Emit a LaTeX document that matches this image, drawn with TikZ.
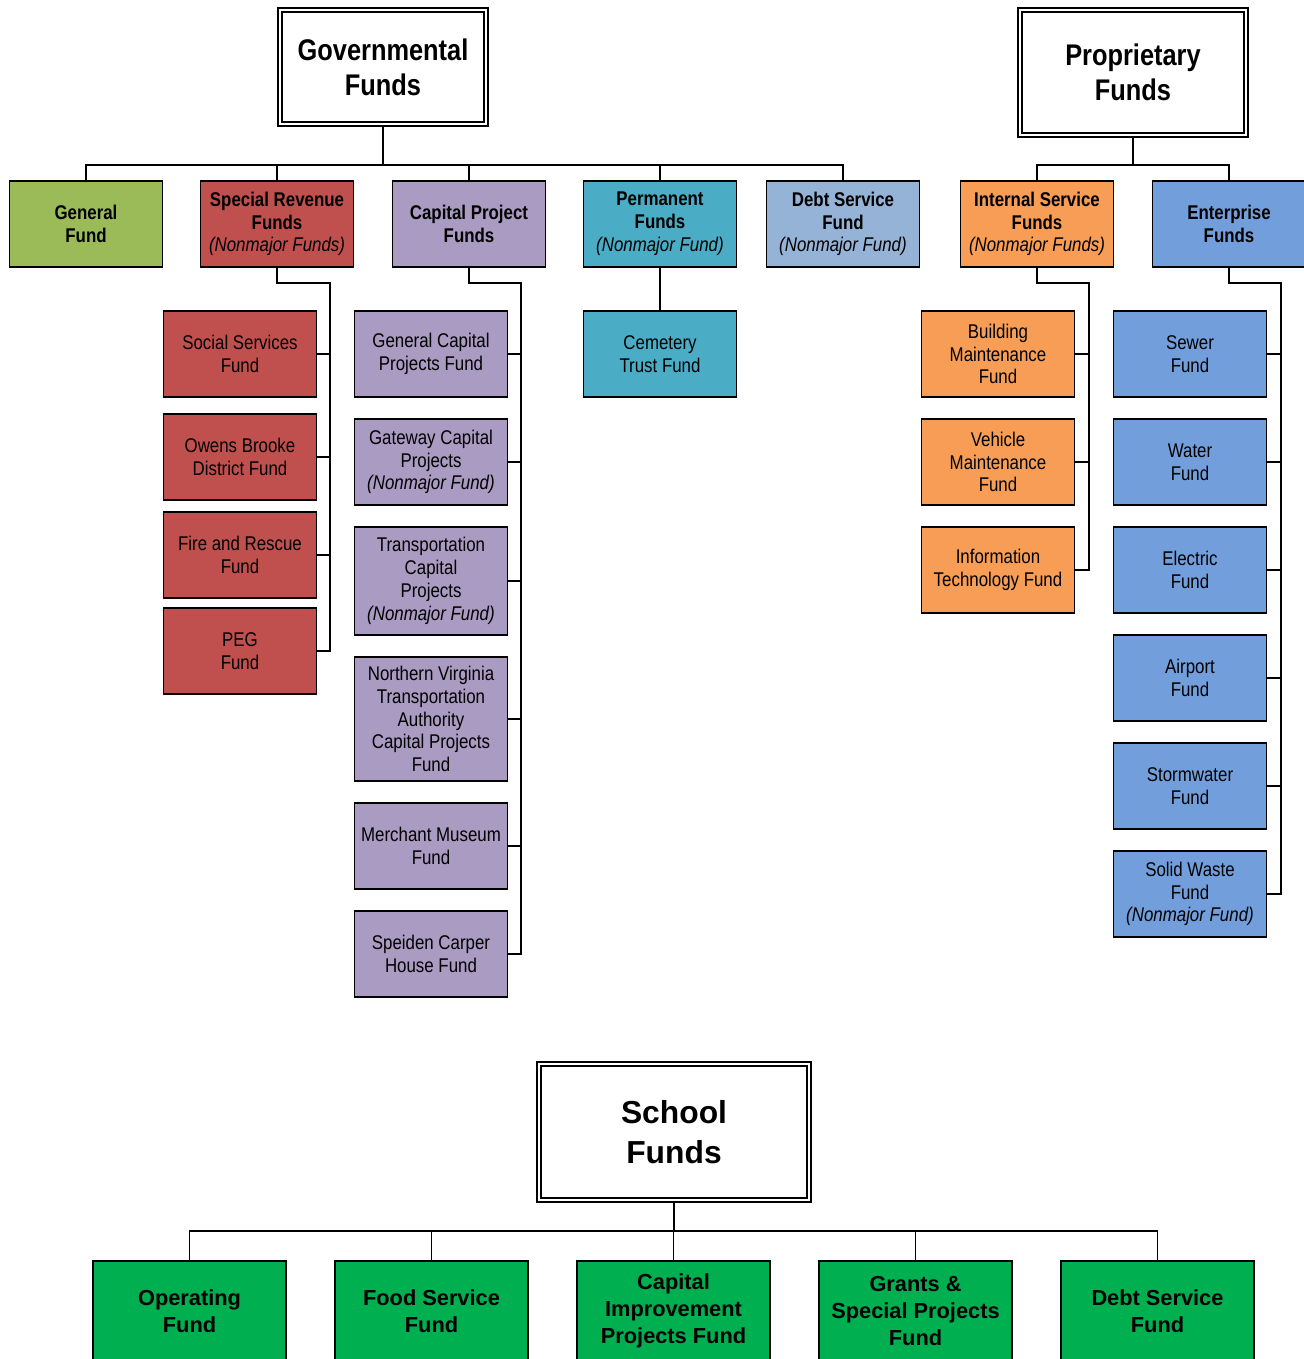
\documentclass[tikz,border=0pt]{standalone}
\usepackage{fontspec}
\setmainfont{Liberation Sans}
\newfontfamily\narrowsans[FakeStretch=0.85]{Liberation Sans}
\usepackage{tikz}
\usetikzlibrary{calc}
\definecolor{genGreen}{HTML}{9BBB59}
\definecolor{srRed}{HTML}{C0504D}
\definecolor{cpPurple}{HTML}{A99BC1}
\definecolor{permTeal}{HTML}{4BACC6}
\definecolor{debtBlue}{HTML}{95B3D7}
\definecolor{isOrange}{HTML}{F79D55}
\definecolor{entBlue}{HTML}{729FDB}
\definecolor{schoolGreen}{HTML}{00B050}
\newcommand{\nmj}[1]{{\mdseries\itshape(#1)}}
\tikzset{
	fundbox/.style={draw=black, line width=0.9pt, inner sep=0pt, align=center,
		minimum width=3.06cm, minimum height=1.72cm,
		font=\narrowsans\fontsize{11.3}{13}\selectfont},
	topbox/.style={fundbox, font=\narrowsans\bfseries\fontsize{11.3}{13}\selectfont},
	headbox/.style={draw=black, double, double distance=1.4pt, line width=0.8pt,
		inner sep=0pt, align=center, fill=white,
		font=\narrowsans\bfseries\fontsize{17}{19.8}\selectfont},
	schoolbox/.style={draw=black, line width=0.9pt, fill=schoolGreen, inner sep=0pt,
		align=center, minimum width=3.86cm, minimum height=2cm,
		font=\bfseries\fontsize{12.4}{15.3}\selectfont},
	link/.style={draw=black, line width=0.9pt},
}

\begin{document}
\begin{tikzpicture}[x=0.02cm, y=-0.02cm]
	\useasboundingbox (0,0) rectangle (1303,1359);

	% headings
	\node[headbox, minimum width=4.12cm, minimum height=2.28cm] (gov) at (383,67) {Governmental\\Funds};
	\node[headbox, minimum width=4.52cm, minimum height=2.5cm] (prop) at (1133,72.5) {Proprietary\\Funds};
	\node[headbox, minimum width=5.4cm, minimum height=2.72cm, font=\bfseries\fontsize{18.1}{22.7}\selectfont] (school) at (674,1132) {School\\Funds};

	% fund types
	\node[topbox, fill=genGreen] (gen) at (86,224) {General\\Fund};
	\node[topbox, fill=srRed] (srf) at (277,224) {Special Revenue\\Funds\\\nmj{Nonmajor Funds}};
	\node[topbox, fill=cpPurple] (cpf) at (469,224) {Capital Project\\Funds};
	\node[topbox, fill=permTeal] (perm) at (660,224) {Permanent\\Funds\\\nmj{Nonmajor Fund}};
	\node[topbox, fill=debtBlue] (debt) at (843,224) {Debt Service\\Fund\\\nmj{Nonmajor Fund}};
	\node[topbox, fill=isOrange] (isf) at (1037,224) {Internal Service\\Funds\\\nmj{Nonmajor Funds}};
	\node[topbox, fill=entBlue] (ent) at (1229,224) {Enterprise\\Funds};

	% special revenue
	\node[fundbox, fill=srRed] (sr1) at (240,354) {Social Services\\Fund};
	\node[fundbox, fill=srRed] (sr2) at (240,457) {Owens Brooke\\District Fund};
	\node[fundbox, fill=srRed] (sr3) at (240,555) {Fire and Rescue\\Fund};
	\node[fundbox, fill=srRed] (sr4) at (240,651) {PEG\\Fund};

	% capital projects
	\node[fundbox, fill=cpPurple] (cp1) at (431,354) {General Capital\\Projects Fund};
	\node[fundbox, fill=cpPurple] (cp2) at (431,462) {Gateway Capital\\Projects\\\nmj{Nonmajor Fund}};
	\node[fundbox, fill=cpPurple, minimum height=2.16cm] (cp3) at (431,581) {Transportation\\Capital\\Projects\\\nmj{Nonmajor Fund}};
	\node[fundbox, fill=cpPurple, minimum height=2.48cm] (cp4) at (431,719) {Northern Virginia\\Transportation\\Authority\\Capital Projects\\Fund};
	\node[fundbox, fill=cpPurple] (cp5) at (431,846) {Merchant Museum\\Fund};
	\node[fundbox, fill=cpPurple] (cp6) at (431,954) {Speiden Carper\\House Fund};

	% permanent
	\node[fundbox, fill=permTeal] (pm1) at (660,354) {Cemetery\\Trust Fund};

	% internal service
	\node[fundbox, fill=isOrange] (is1) at (998,354) {Building\\Maintenance\\Fund};
	\node[fundbox, fill=isOrange] (is2) at (998,462) {Vehicle\\Maintenance\\Fund};
	\node[fundbox, fill=isOrange] (is3) at (998,570) {Information\\Technology Fund};

	% enterprise
	\node[fundbox, fill=entBlue] (en1) at (1190,354) {Sewer\\Fund};
	\node[fundbox, fill=entBlue] (en2) at (1190,462) {Water\\Fund};
	\node[fundbox, fill=entBlue] (en3) at (1190,570) {Electric\\Fund};
	\node[fundbox, fill=entBlue] (en4) at (1190,678) {Airport\\Fund};
	\node[fundbox, fill=entBlue] (en5) at (1190,786) {Stormwater\\Fund};
	\node[fundbox, fill=entBlue] (en6) at (1190,894) {Solid Waste\\Fund\\\nmj{Nonmajor Fund}};

	% school
	\node[schoolbox] (sc1) at (189.5,1311) {Operating\\Fund};
	\node[schoolbox] (sc2) at (431.5,1311) {Food Service\\Fund};
	\node[schoolbox] (sc3) at (673.5,1311) {Capital\\Improvement\\Projects Fund};
	\node[schoolbox] (sc4) at (915.5,1311) {Grants \&\\Special Projects\\Fund};
	\node[schoolbox] (sc5) at (1157.5,1311) {Debt Service\\Fund};

	% buses
	\coordinate (govbus) at (383,165);
	\coordinate (propbus) at (1133,165);
	\coordinate (schbus) at (674,1231);
	\coordinate (srspine) at (330,283);
	\coordinate (cpspine) at (521,283);
	\coordinate (isspine) at (1089,283);
	\coordinate (enspine) at (1281,283);

	\draw[link] (gov.south) -- (govbus);
	\foreach \n in {gen,srf,cpf,perm,debt}
		\draw[link] (govbus) -| (\n.north);
	\draw[link] (prop.south) -- (propbus);
	\foreach \n in {isf,ent}
		\draw[link] (propbus) -| (\n.north);
	\draw[link] (school.south) -- (schbus);
	\foreach \n in {sc1,sc2,sc3,sc4,sc5}
		\draw[link] (schbus) -| (\n.north);

	\draw[link] (perm.south) -- (pm1.north);

	\draw[link] (srf.south) |- (srspine) -- (srspine |- sr4.east) -- (sr4.east);
	\foreach \n in {sr1,sr2,sr3}
		\draw[link] (\n.east) -- (srspine |- \n.east);
	\draw[link] (cpf.south) |- (cpspine) -- (cpspine |- cp6.east) -- (cp6.east);
	\foreach \n in {cp1,cp2,cp3,cp4,cp5}
		\draw[link] (\n.east) -- (cpspine |- \n.east);
	\draw[link] (isf.south) |- (isspine) -- (isspine |- is3.east) -- (is3.east);
	\foreach \n in {is1,is2}
		\draw[link] (\n.east) -- (isspine |- \n.east);
	\draw[link] (ent.south) |- (enspine) -- (enspine |- en6.east) -- (en6.east);
	\foreach \n in {en1,en2,en3,en4,en5}
		\draw[link] (\n.east) -- (enspine |- \n.east);
\end{tikzpicture}
\end{document}
